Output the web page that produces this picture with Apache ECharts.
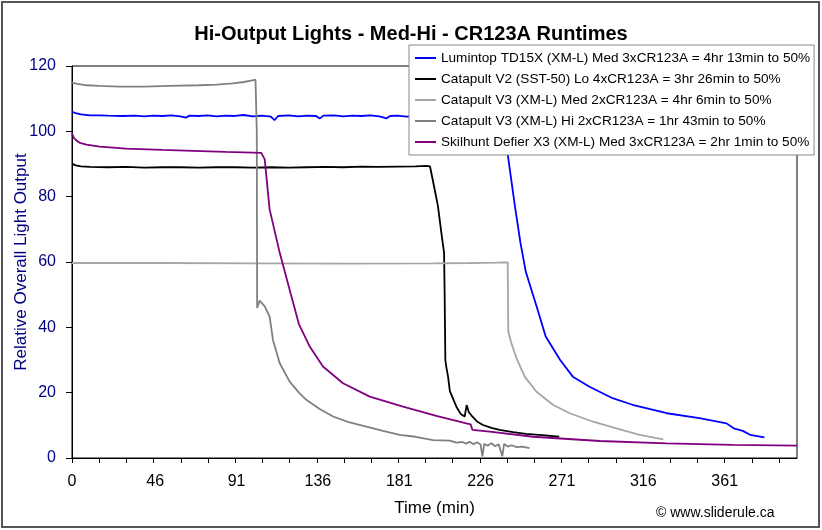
<!DOCTYPE html>
<html><head><meta charset="utf-8">
<script src="https://cdn.jsdelivr.net/npm/echarts@6/dist/echarts.min.js"></script>
<style>html,body{margin:0;padding:0;background:#fff}#c{width:822px;height:530px}</style>
</head><body><div id="c"></div><script>
const chartTitle = 'Hi-Output Lights - Med-Hi - CR123A Runtimes';
const seriesNames = [
  'Lumintop TD15X (XM-L) Med 3xCR123A = 4hr 13min to 50%',
  'Catapult V2 (SST-50) Lo 4xCR123A = 3hr 26min to 50%',
  'Catapult V3 (XM-L) Med 2xCR123A = 4hr 6min to 50%',
  'Catapult V3 (XM-L) Hi 2xCR123A = 1hr 43min to 50%',
  'Skilhunt Defier X3 (XM-L) Med 3xCR123A = 2hr 1min to 50%'
];
const seriesColors = ['#0000FF', '#000000', '#A6A6A6', '#808080', '#800080'];
const xTickLabels = [0, 46, 91, 136, 181, 226, 271, 316, 361];
const yTickLabels = [0, 20, 40, 60, 80, 100, 120];

// Lumintop TD15X
const lumT = [0,2,5,10,15,20,28,35,40,45,50,55,60,63,64,65,70,75,80,85,90,95,100,105,110,112,114,120,125,130,135,137,139,145,150,155,160,165,170,174,176,180,185,190,200,210,220,228,232,236,239,241,243,245,248,251,257,262,270,277,286,299,310,329,347,362,366,371,375,383];
const lumV = [106.0,105.6,105.2,104.9,104.9,104.8,104.7,104.8,104.6,104.8,104.7,104.9,104.6,104.2,103.9,104.8,104.7,104.9,104.6,104.8,104.7,105.0,104.6,104.8,104.5,103.4,104.7,104.9,104.6,104.8,104.7,103.9,104.8,104.9,104.6,104.8,104.7,104.9,104.6,104.0,104.7,104.8,104.5,104.7,104.5,104.6,104.4,104.2,103.6,101.0,97.0,93.0,85.0,77.0,66.0,57.0,46.4,37.2,30.0,24.9,21.9,18.3,16.3,13.7,12.2,10.6,9.1,8.3,7.1,6.3];

// Catapult V2 Lo
const v2T = [0,2,5,10,20,30,40,50,60,70,80,90,100,110,120,130,140,150,160,170,180,190,196,198,200.6,202.4,204.3,205.8,206.1,206.3,206.5,207,208,209,210.5,212.6,215,217.2,218.3,219.5,221,224,227.3,232,236.5,244,251,260,269.5];
const v2V = [90.1,89.6,89.3,89.1,89.0,89.1,88.9,89.0,89.0,88.9,89.0,89.0,88.9,89.0,88.9,89.0,89.1,89.0,89.2,89.1,89.2,89.3,89.4,89.3,82.2,77.1,68.9,62.8,50.5,40.0,30.0,28.0,24.9,20.5,18.5,15.7,13.5,12.7,16.2,14.0,13.0,11.2,10.1,9.2,8.6,7.9,7.4,7.0,6.5];

// Catapult V3 Med
const v3mT = [0,50,100,150,200,220,235,241,241.3,243,245.8,250.4,256.9,266,275.3,288.2,301.1,314,327];
const v3mV = [59.7,59.7,59.6,59.5,59.6,59.7,59.8,59.9,38.7,35.2,30.6,24.9,20.3,16.3,13.7,11.1,9.1,7.1,5.7];

// Catapult V3 Hi
const v3hT = [0,3,8,15,26,40,54,70,80,89,95,99,101.5,102.2,102.4,103.8,106.6,109.3,111.2,114.9,120.4,125.9,129.6,137,144.4,153,162.8,172,181.3,190,199.7,209,212.6,216,218,220,222,224,226,227,228,230,232,234,236,238,239,241,243,246,249,253];
const v3hV = [114.9,114.5,114.1,113.9,113.7,113.7,113.9,114.1,114.3,114.7,115.1,115.5,115.8,100.0,45.9,48.2,46.4,43.3,36.0,29.0,23.4,19.8,17.8,15.0,12.7,11.0,9.6,8.3,7.1,6.5,5.5,5.3,4.7,4.9,4.4,5.0,4.2,4.8,4.1,0.5,4.3,3.8,4.5,3.6,4.2,0.5,4.3,3.5,3.9,3.3,3.5,3.0];

// Skilhunt Defier X3
const skT = [0,1,2.5,4.3,8,15.3,30,50,67,85,104.7,106.6,109.3,114.9,120,125.5,131.5,138.8,149.9,164.7,183.1,201.5,218.1,220.5,221.5,231,255,291.9,328.8,365.6,401];
const skV = [99.4,98.0,97.2,96.5,95.9,95.3,94.7,94.3,94.0,93.7,93.4,91.4,76.1,62.8,52.3,41.0,34.1,28.0,22.9,18.8,15.7,12.9,10.6,10.3,8.6,8.1,6.5,5.2,4.5,4.0,3.8];

const seriesT = [lumT, v2T, v3mT, v3hT, skT];
const seriesV = [lumV, v2V, v3mV, v3hV, skV];

const FONT = "'Liberation Sans', Arial, sans-serif";
const xMax = 401;
const minorStep = (xTickLabels[xTickLabels.length - 1] - xTickLabels[0]) / ((xTickLabels.length - 1) * 3);
const minorTicks = [];
for (let v = 0; v <= xMax + 1e-6; v += minorStep) minorTicks.push(v);

const chart = echarts.init(document.getElementById('c'), null, {renderer: 'canvas'});
chart.setOption({
  animation: false,
  backgroundColor: '#fff',
  textStyle: {fontFamily: FONT},
  title: {
    text: chartTitle, left: 'center', top: 19,
    textStyle: {fontFamily: FONT, fontSize: 20, fontWeight: 'bold', color: '#000'}
  },
  grid: {left: 72, top: 66, right: 25, bottom: 72, show: true, borderColor: '#000', borderWidth: 1, backgroundColor: '#fff', containLabel: false, outerBoundsMode: 'none'},
  legend: {
    orient: 'vertical', left: 409, top: 45,
    padding: [6, 4, 6, 5], itemGap: 7, itemWidth: 21, itemHeight: 14,
    backgroundColor: '#fff', borderColor: '#888', borderWidth: 1,
    itemStyle: {opacity: 0},
    lineStyle: {opacity: 1},
    textStyle: {fontFamily: FONT, fontSize: 13.6, color: '#000'},
    data: seriesNames, z: 10
  },
  xAxis: {
    type: 'value', min: 0, max: xMax,
    name: 'Time (min)', nameLocation: 'middle', nameGap: 42, nameMoveOverlap: false,
    nameTextStyle: {fontFamily: FONT, fontSize: 17, color: '#000'},
    axisLine: {show: true, lineStyle: {color: '#000', width: 1}},
    axisTick: {show: true, length: 5, customValues: minorTicks, lineStyle: {color: '#000'}},
    axisLabel: {customValues: xTickLabels, margin: 16, fontFamily: FONT, fontSize: 16, color: '#000'},
    splitLine: {show: false}
  },
  yAxis: {
    type: 'value', min: 0, max: 120, interval: 20,
    name: 'Relative Overall Light Output', nameLocation: 'middle', nameGap: 42, nameMoveOverlap: false,
    nameTextStyle: {fontFamily: FONT, fontSize: 17, color: '#000080'},
    axisLine: {show: true, lineStyle: {color: '#000', width: 1}},
    axisTick: {show: true, length: 6, lineStyle: {color: '#000'}},
    axisLabel: {margin: 16, fontFamily: FONT, fontSize: 16, color: '#000080', customValues: yTickLabels},
    splitLine: {show: false}
  },
  series: seriesNames.map((name, i) => ({
    name, type: 'line', symbol: 'none', clip: true,
    lineStyle: {color: seriesColors[i], width: 1.8},
    itemStyle: {color: seriesColors[i]},
    data: seriesT[i].map((t, j) => [t, seriesV[i][j]])
  })),
  graphic: [
    {type: 'rect', shape: {x: 2, y: 2, width: 817, height: 525}, style: {fill: 'none', stroke: '#555', lineWidth: 2}, silent: true},
    {type: 'text', left: 656, top: 506, style: {text: '\u00A9 www.sliderule.ca', font: "14px 'Liberation Sans', Arial, sans-serif", fill: '#000'}}
  ]
});
</script></body></html>
